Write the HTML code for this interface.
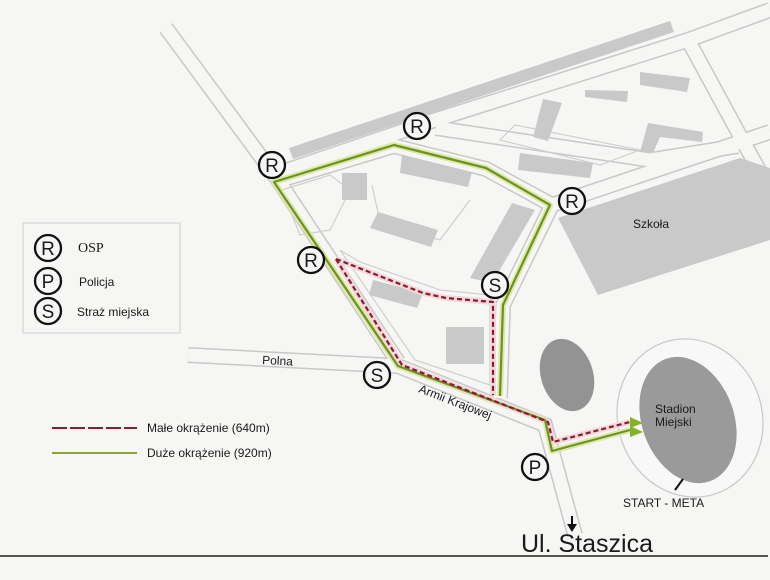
<!DOCTYPE html>
<html><head><meta charset="utf-8"><style>
html,body{margin:0;padding:0;background:#f6f6f5;}
svg{display:block;}
text{font-family:"Liberation Sans",sans-serif;fill:#1a1a1a;}
</style></head><body>
<svg width="770" height="580" viewBox="0 0 770 580" xmlns="http://www.w3.org/2000/svg">
<rect width="770" height="580" fill="#f6f6f5"/>
<g fill="none" stroke-linejoin="miter" stroke-linecap="butt">
 <g stroke="#c8c8c8" stroke-width="16">
  <path d="M166,28 L278,180 L398,362"/>
  <path d="M188,355 L398,366"/>
  <path d="M398,366 L545,425 L575,535"/>
  <path d="M552,205 L503,305 L500,398"/>
  <path d="M274,182 L394,146 L486,169 L552,205"/>
  <path d="M282,172 L435,120 L688,40 L745,145 L770,190"/>
  <path d="M552,205 L740,142 L770,132"/>
  <path d="M436,128 L650,160 L738,146"/>
  <path d="M688,40 L770,10"/>
 </g>
 <g stroke="#f6f6f5" stroke-width="13">
  <path d="M166,28 L278,180 L398,362"/>
  <path d="M188,355 L398,366"/>
  <path d="M398,366 L545,425 L575,535"/>
  <path d="M552,205 L503,305 L500,398"/>
  <path d="M274,182 L394,146 L486,169 L552,205"/>
  <path d="M282,172 L435,120 L688,40 L745,145 L770,190"/>
  <path d="M552,205 L740,142 L770,132"/>
  <path d="M436,128 L650,160 L738,146"/>
  <path d="M688,40 L770,10"/>
 </g>
 <g stroke="#cfcfcf" stroke-width="1.2">
  <path d="M282,190 L330,175 L350,190 L330,230 L300,235 Z"/>
  <path d="M372,185 L380,222 L440,240 L470,200"/>
  <path d="M340,250 L360,262 L440,290 L490,295 L490,385 L415,360 Z"/>
  <path d="M500,140 L515,125 L640,150 L600,165 Z"/>
 </g>
</g>
<polygon points="289,148 670,21 674,32 293,159" fill="#c9c9c9"/>
<g fill="#c9c9c9">
 <polygon points="640,72 690,78 687,92 640,85"/>
 <polygon points="585,90 628,91 627,102 585,97"/>
 <polygon points="543,99 562,103 548,141 533,137"/>
 <polygon points="648,123 703,132 702,142 660,137 653,153 640,152"/>
 <polygon points="520,153 593,163 590,178 518,170"/>
 <polygon points="402,155 472,172 468,187 400,173"/>
 <polygon points="512,203 535,210 492,283 470,278"/>
 <polygon points="342,173 367,173 367,200 342,200"/>
 <polygon points="378,212 438,230 431,247 370,228"/>
 <polygon points="373,280 423,293 417,308 369,295"/>
 <polygon points="446,327 484,327 484,364 446,364"/>
 <polygon points="558,218 740,158 770,168 770,240 598,295"/>
</g>
<text x="633" y="228" font-size="12">Szkoła</text>
<ellipse cx="690" cy="418" rx="72" ry="80" transform="rotate(-20 690 418)" fill="#f8f8f8" stroke="#c8c8c8" stroke-width="1.2"/>
<ellipse cx="688" cy="420" rx="46" ry="65" transform="rotate(-20 688 420)" fill="#9a9a9a"/>
<ellipse cx="567" cy="375" rx="26" ry="37" transform="rotate(-18 567 375)" fill="#939393"/>
<text x="655" y="413" font-size="12">Stadion</text>
<text x="655" y="426" font-size="12">Miejski</text>
<line x1="675" y1="490" x2="683" y2="479" stroke="#111" stroke-width="2"/>
<text x="623" y="507" font-size="12">START - META</text>
<g fill="none" stroke-linejoin="round">
 <path d="M500,396 L503,305 L550,205 L486,168 L394,145 L274,182 L398,366 L545,420 L552,451 L630,430" stroke="#dbe8a8" stroke-width="6"/>
 <path d="M336,259 L423,293 L446,298 L493,302 L493,395 M336,259 L402,365 L548,422 L553,442 L630,422" stroke="#f3d8dc" stroke-width="6"/>
 <path d="M500,396 L503,305 L550,205 L486,168 L394,145 L274,182 L398,366 L545,420 L552,451 L630,430" stroke="#6e9220" stroke-width="2.2"/>
 <path d="M336,259 L423,293 L446,298 L493,302 L493,395 M336,259 L402,365 L548,422 L553,442 L630,422" stroke="#8a1c2c" stroke-width="2.2" stroke-dasharray="5,3"/>
</g>
<polygon points="630,417 643,423 630,428" fill="#86b22a"/>
<polygon points="630,426 643,432 630,437" fill="#86b22a"/>
<line x1="572" y1="516" x2="572" y2="528" stroke="#111" stroke-width="2"/>
<polygon points="567,524 577,524 572,532" fill="#111"/>
<line x1="0" y1="556" x2="768" y2="556" stroke="#222" stroke-width="1.5"/>
<text x="521" y="552" font-size="25">Ul. Staszica</text>
<text x="262" y="364" font-size="12" transform="rotate(3 262 364)">Polna</text>
<text x="418" y="392" font-size="12" transform="rotate(21 418 392)">Armii Krajowej</text>
<g fill="#f6f6f5" stroke="#111" stroke-width="2.3">
 <circle cx="417" cy="126" r="13"/><circle cx="272" cy="165" r="13"/>
 <circle cx="572" cy="201" r="13"/><circle cx="311" cy="260" r="13"/>
 <circle cx="495" cy="285" r="13"/><circle cx="377" cy="375" r="13"/>
 <circle cx="535" cy="467" r="13"/>
 <circle cx="48" cy="248" r="13"/><circle cx="48" cy="281" r="13"/><circle cx="48" cy="311" r="13"/>
</g>
<g font-size="19" text-anchor="middle">
 <text x="417" y="133">R</text><text x="272" y="172">R</text>
 <text x="572" y="208">R</text><text x="311" y="267">R</text>
 <text x="495" y="292">S</text><text x="377" y="382">S</text>
 <text x="535" y="474">P</text>
 <text x="48" y="255">R</text><text x="48" y="288">P</text><text x="48" y="318">S</text>
</g>
<rect x="23" y="223" width="157" height="110" fill="none" stroke="#cfcfcf" stroke-width="1"/>
<text x="78" y="252" font-size="14" style="font-family:'Liberation Serif',serif">OSP</text>
<text x="79" y="286" font-size="12">Policja</text>
<text x="77" y="316" font-size="12">Straż miejska</text>
<line x1="52" y1="428" x2="137" y2="428" stroke="#8a1c2c" stroke-width="2" stroke-dasharray="15,3"/>
<text x="147" y="432" font-size="12">Małe okrążenie (640m)</text>
<line x1="52" y1="453" x2="137" y2="453" stroke="#8aa630" stroke-width="2"/>
<text x="147" y="457" font-size="12">Duże okrążenie (920m)</text>
</svg>
</body></html>
